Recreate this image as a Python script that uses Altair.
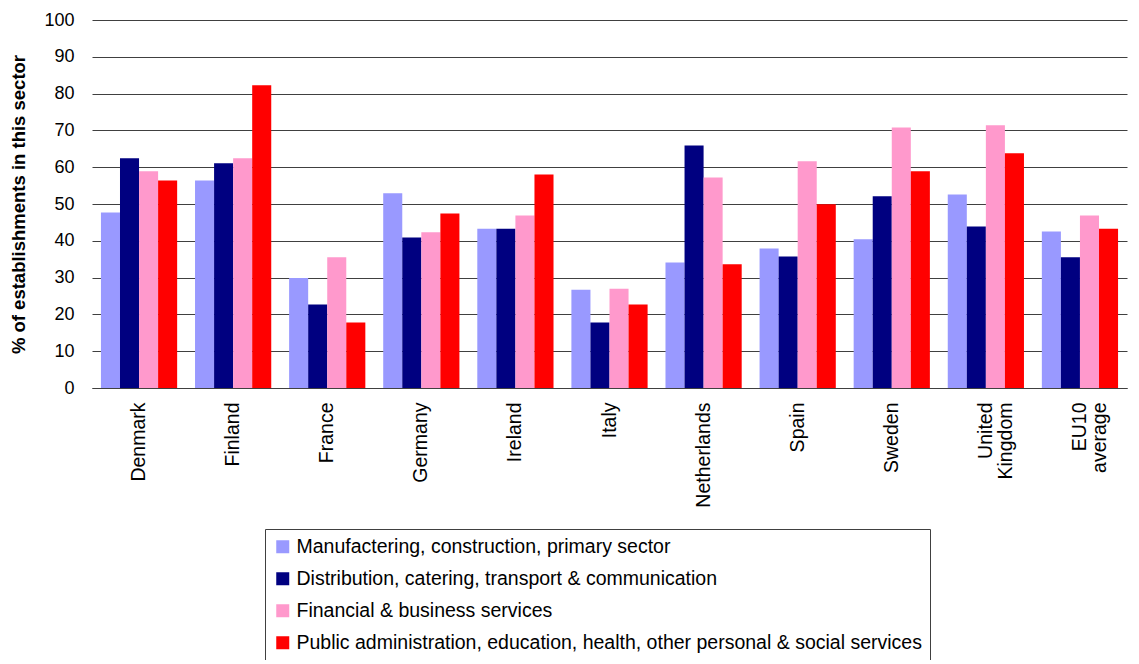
import altair as alt
import pandas as pd

countries = ["Denmark", "Finland", "France", "Germany", "Ireland", "Italy",
             "Netherlands", "Spain", "Sweden", "United Kingdom", "EU10 average"]
sectors = ["Manufactering, construction, primary sector",
           "Distribution, catering, transport & communication",
           "Financial & business services",
           "Public administration, education, health, other personal & social services"]
manufacturing = [47.7, 56.4, 29.9, 52.9, 43.3, 26.7, 34.1, 37.9, 40.4, 52.6, 42.5]
distribution = [62.4, 61.1, 22.7, 40.9, 43.3, 17.8, 65.9, 35.7, 52.1, 43.9, 35.5]
financial = [58.9, 62.4, 35.5, 42.3, 46.9, 27.0, 57.2, 61.6, 70.8, 71.4, 46.9]
public = [56.4, 82.3, 17.8, 47.4, 58.0, 22.7, 33.6, 49.9, 58.9, 63.8, 43.3]
colors = ["#9999FF", "#000080", "#FF99CC", "#FF0000"]

series = [manufacturing, distribution, financial, public]
rows = []
for s, vals in zip(sectors, series):
    for c, v in zip(countries, vals):
        rows.append({"country": c, "sector": s, "value": v})
df = pd.DataFrame(rows)

FONT = "Liberation Sans"

chart = alt.Chart(df).mark_bar().encode(
    x=alt.X("country:N", sort=countries,
            scale=alt.Scale(paddingInner=0.19, paddingOuter=0.095),
            axis=alt.Axis(title=None, labelAngle=-90, labelFontSize=19.5,
                          labelExpr="split(datum.label, ' ')",
                          labelLineHeight=20,
                          ticks=False, labelPadding=14, domainColor="#404040",
                          labelColor="black", labelFont=FONT)),
    xOffset=alt.XOffset("sector:N", sort=sectors, scale=alt.Scale(paddingInner=0, paddingOuter=0)),
    y=alt.Y("value:Q", scale=alt.Scale(domain=[0, 100], nice=False),
            axis=alt.Axis(title="% of establishments in this sector",
                          values=list(range(0, 101, 10)), tickCount=11,
                          titleFontSize=18.5, titleFontWeight="bold", titleFont=FONT,
                          titleColor="black", titleX=-74, titleY=184,
                          titleAngle=-90, titleAlign="center", titleBaseline="middle",
                          labelFontSize=18, labelFont=FONT, labelColor="black",
                          labelPadding=18, ticks=False,
                          domain=False, gridColor="#404040", gridOpacity=1,
                          gridWidth=1)),
    color=alt.Color("sector:N", sort=sectors,
                    scale=alt.Scale(domain=sectors, range=colors),
                    legend=alt.Legend(title=None, orient="none", legendX=173, legendY=509,
                                      symbolType="square", symbolSize=169,
                                      symbolStrokeWidth=0, symbolOpacity=1,
                                      labelFontSize=19.5, labelFont=FONT, labelColor="black",
                                      labelLimit=800, rowPadding=11, padding=8,
                                      strokeColor="#404040", labelOffset=4)),
).properties(
    width=1035, height=368,
    autosize=alt.AutoSizeParams(type="none"),
    padding={"left": 84, "top": 12, "right": 4, "bottom": 272},
).configure_view(stroke=None).configure_axis(labelFont=FONT)

chart.save("out.html", embed_options={"renderer": "svg", "actions": False})
